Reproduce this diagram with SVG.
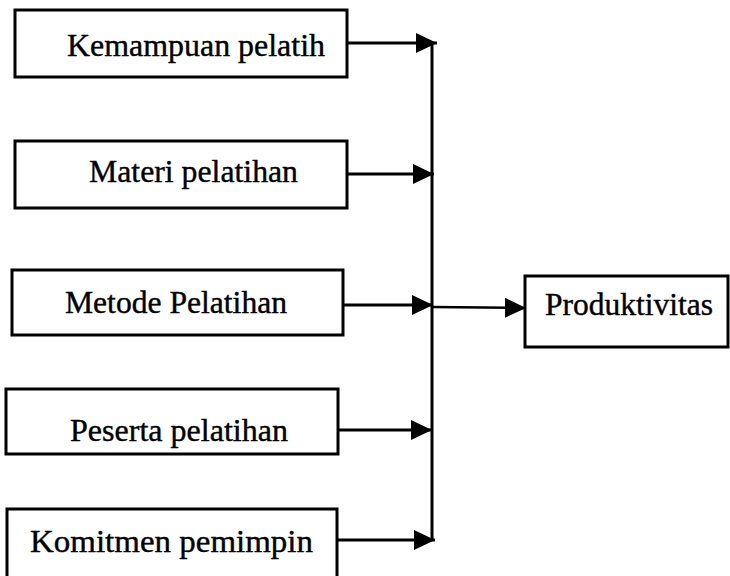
<svg xmlns="http://www.w3.org/2000/svg" width="730" height="576" viewBox="0 0 730 576">
<style>
.box{fill:#fff;stroke:#000;stroke-width:3}
.lbl{font-family:"Liberation Serif","Times New Roman",serif;font-size:32px;fill:#000;stroke:#000;stroke-width:0.4}
.ln{stroke:#000;stroke-width:3;fill:none}
</style>
<defs>
<marker id="ah" markerUnits="userSpaceOnUse" markerWidth="22" markerHeight="22" refX="21" refY="10" orient="auto">
<path d="M0,0 L21,10 L0,20 z" fill="#000"/>
</marker>
</defs>
<rect width="730" height="576" fill="#fff"/>
<g id="connectors">
<line class="ln" x1="432" y1="43" x2="432" y2="540"/>
<line class="ln" x1="347" y1="43" x2="437" y2="43" marker-end="url(#ah)"/>
<line class="ln" x1="347" y1="174" x2="434" y2="174" marker-end="url(#ah)"/>
<line class="ln" x1="343" y1="305" x2="433" y2="305" marker-end="url(#ah)"/>
<line class="ln" x1="338" y1="430" x2="432" y2="430" marker-end="url(#ah)"/>
<line class="ln" x1="337" y1="540" x2="435" y2="540" marker-end="url(#ah)"/>
<line class="ln" x1="432" y1="307" x2="526" y2="308" marker-end="url(#ah)" style="stroke-width:2.5"/>
</g>
<g id="n1">
<rect class="box" x="15" y="10" width="332" height="67"/>
<text class="lbl" x="67" y="56" textLength="258" lengthAdjust="spacingAndGlyphs">Kemampuan pelatih</text>
</g>
<g id="n2">
<rect class="box" x="15" y="141" width="332" height="67"/>
<text class="lbl" x="89" y="182" textLength="209" lengthAdjust="spacingAndGlyphs">Materi pelatihan</text>
</g>
<g id="n3">
<rect class="box" x="12" y="270" width="331" height="65"/>
<text class="lbl" x="65" y="313" textLength="222" lengthAdjust="spacingAndGlyphs">Metode Pelatihan</text>
</g>
<g id="n4">
<rect class="box" x="6" y="389" width="332" height="65"/>
<text class="lbl" x="70" y="441" textLength="218" lengthAdjust="spacingAndGlyphs">Peserta pelatihan</text>
</g>
<g id="n5">
<rect class="box" x="7" y="509" width="330" height="90"/>
<text class="lbl" x="30" y="552" textLength="283" lengthAdjust="spacingAndGlyphs">Komitmen pemimpin</text>
</g>
<g id="n6">
<rect class="box" x="525" y="276" width="203" height="71"/>
<text class="lbl" x="545" y="315" textLength="168" lengthAdjust="spacingAndGlyphs">Produktivitas</text>
</g>
</svg>
